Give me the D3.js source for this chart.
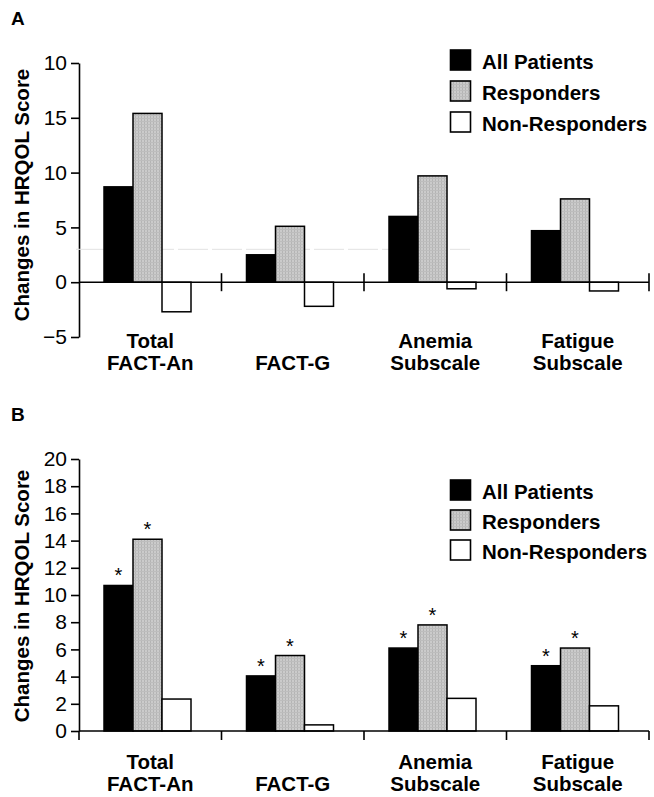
<!DOCTYPE html>
<html>
<head>
<meta charset="utf-8">
<script src="https://cdn.jsdelivr.net/npm/d3@7"></script>
<style>
  body { margin: 0; background: #fff; }
  svg { font-family: "Liberation Sans", Arial, Helvetica, sans-serif; }
</style>
</head>
<body>
<div id="chart"></div>
<script>
// categories and series
let categories = ["Total FACT-An", "FACT-G", "Anemia Subscale", "Fatigue Subscale"]
let catLines = [["Total", "FACT-An"], ["FACT-G"], ["Anemia", "Subscale"], ["Fatigue", "Subscale"]]
let groups = ["All Patients", "Responders", "Non-Responders"]

// panel A values
let allA = [8.7, 2.5, 6.0, 4.7]
let respA = [15.4, 5.1, 9.7, 7.6]
let nonA = [-2.7, -2.2, -0.6, -0.8]
let ticksA = [-5, 0, 5, 10, 15, 20]
let tickLabelsA = ["\u22125", "0", "5", "10", "15", "10"]   // the original prints "10" at the top

// panel B values
let allB = [10.7, 4.05, 6.1, 4.8]
let respB = [14.1, 5.55, 7.8, 6.1]
let nonB = [2.35, 0.45, 2.4, 1.85]
let ticksB = [0, 2, 4, 6, 8, 10, 12, 14, 16, 18, 20]
let starsB = [true, true, false]   // significance marks per group

let W = 654, H = 797
let svg = d3.select("#chart").append("svg")
    .attr("width", W)
    .attr("height", H)

// grey texture for responders
let pat = svg.append("defs").append("pattern")
    .attr("id", "grain")
    .attr("width", 3).attr("height", 3)
    .attr("patternUnits", "userSpaceOnUse")
pat.append("rect").attr("width", 3).attr("height", 3).attr("fill", "#cbcbcb")
pat.append("rect").attr("width", 1).attr("height", 3).attr("fill", "#b4b4b4")
pat.append("rect").attr("y", 1).attr("width", 3).attr("height", 1).attr("fill", "#bdbdbd")

let fills = ["#000", "url(#grain)", "#fff"]

function panel(opt) {
    let g = svg.append("g")

    let x = d3.scaleBand()
        .domain(categories)
        .range([79, 649])
    let xs = d3.scaleBand()
        .domain(groups)
        .range([0, 87])
    let y = d3.scaleLinear()
        .domain(opt.domain)
        .range(opt.range)

    // panel letter
    g.append("text")
        .attr("x", 11).attr("y", opt.letterY)
        .style("font-weight", "bold").style("font-size", "19px")
        .text(opt.letter)

    // y axis
    let yAxis = g.append("g")
        .attr("transform", "translate(79,0)")
        .call(d3.axisLeft(y).tickValues(opt.ticks).tickSize(8).tickSizeOuter(0)
            .tickFormat((d, i) => opt.tickLabels ? opt.tickLabels[i] : d))
    yAxis.select(".domain").attr("stroke", "#000").attr("stroke-width", 1.6)
    yAxis.selectAll(".tick line").attr("stroke", "#000").attr("stroke-width", 1.6)
    yAxis.selectAll(".tick text")
        .attr("x", -12)
        .style("font-size", "21px")
        .style("font-family", "\"Liberation Sans\", Arial, sans-serif")
        .attr("fill", "#000")

    // axis title
    g.append("text")
        .attr("transform", "translate(29," + opt.titleY + ") rotate(-90)")
        .attr("text-anchor", "middle")
        .style("font-weight", "bold").style("font-size", "20.5px")
        .text("Changes in HRQOL Score")

    // faint scan line (panel A only)
    if (opt.faint != null) {
        g.append("line")
            .attr("x1", 76).attr("x2", 470)
            .attr("y1", y(opt.faint)).attr("y2", y(opt.faint))
            .attr("stroke", "#e2e2e2").attr("stroke-width", 1)
            .attr("stroke-dasharray", "30,4")
    }

    // bars
    let series = opt.series
    categories.forEach((c, ci) => {
        series.forEach((vals, si) => {
            let v = vals[ci]
            let bx = x(c) + 25 + xs(groups[si])
            g.append("rect")
                .attr("x", bx)
                .attr("y", y(Math.max(0, v)))
                .attr("width", xs.bandwidth())
                .attr("height", Math.abs(y(v) - y(0)))
                .attr("fill", fills[si])
                .attr("stroke", "#000")
                .attr("stroke-width", 1.5)
            if (opt.stars && opt.stars[si]) {
                g.append("text")
                    .attr("x", bx + xs.bandwidth() / 2)
                    .attr("y", y(v) - 3)
                    .attr("text-anchor", "middle")
                    .style("font-size", "20px")
                    .text("*")
            }
        })
    })

    // zero line and category separators
    g.append("line")
        .attr("x1", 79).attr("x2", 649)
        .attr("y1", y(0)).attr("y2", y(0))
        .attr("stroke", "#000").attr("stroke-width", 1.6)
    let bounds = categories.map(c => x(c) + x.bandwidth())
    if (opt.letter === "B") bounds.unshift(79)
    g.selectAll(".sep")
        .data(bounds)
        .enter()
        .append("line")
        .attr("x1", d => d).attr("x2", d => d)
        .attr("y1", y(0) + opt.sepUp).attr("y2", y(0) + 9)
        .attr("stroke", "#000").attr("stroke-width", 1.6)

    // category labels
    categories.forEach((c, ci) => {
        let lines = catLines[ci]
        let t = g.append("text")
            .attr("text-anchor", "middle")
            .style("font-weight", "bold").style("font-size", "20.5px")
        lines.forEach((ln, li) => {
            let base = lines.length === 1 ? opt.labelY + 22 : opt.labelY + li * 22
            t.append("tspan")
                .attr("x", x(c) + x.bandwidth() / 2)
                .attr("y", base)
                .text(ln)
        })
    })

    // legend
    let leg = g.append("g")
        .attr("transform", "translate(450," + opt.legendY + ")")
    groups.forEach((name, i) => {
        leg.append("rect")
            .attr("x", 0.5).attr("y", i * opt.legendStep)
            .attr("width", 20).attr("height", 20)
            .attr("fill", fills[i])
            .attr("stroke", "#000").attr("stroke-width", 1.6)
        leg.append("text")
            .attr("x", 32).attr("y", i * opt.legendStep + 19)
            .style("font-weight", "bold").style("font-size", "20.5px")
            .text(name)
    })
}

panel({
    letter: "A", letterY: 25,
    domain: [-5, 20], range: [337, 63],
    ticks: ticksA, tickLabels: tickLabelsA,
    titleY: 195,
    series: [allA, respA, nonA],
    sepUp: -9,
    labelY: 348,
    legendY: 50, legendStep: 31,
    faint: 3
})

panel({
    letter: "B", letterY: 421,
    domain: [0, 20], range: [731, 459],
    ticks: ticksB,
    titleY: 596,
    series: [allB, respB, nonB],
    stars: starsB,
    sepUp: 0,
    labelY: 769,
    legendY: 480, legendStep: 30
})
</script>
</body>
</html>
